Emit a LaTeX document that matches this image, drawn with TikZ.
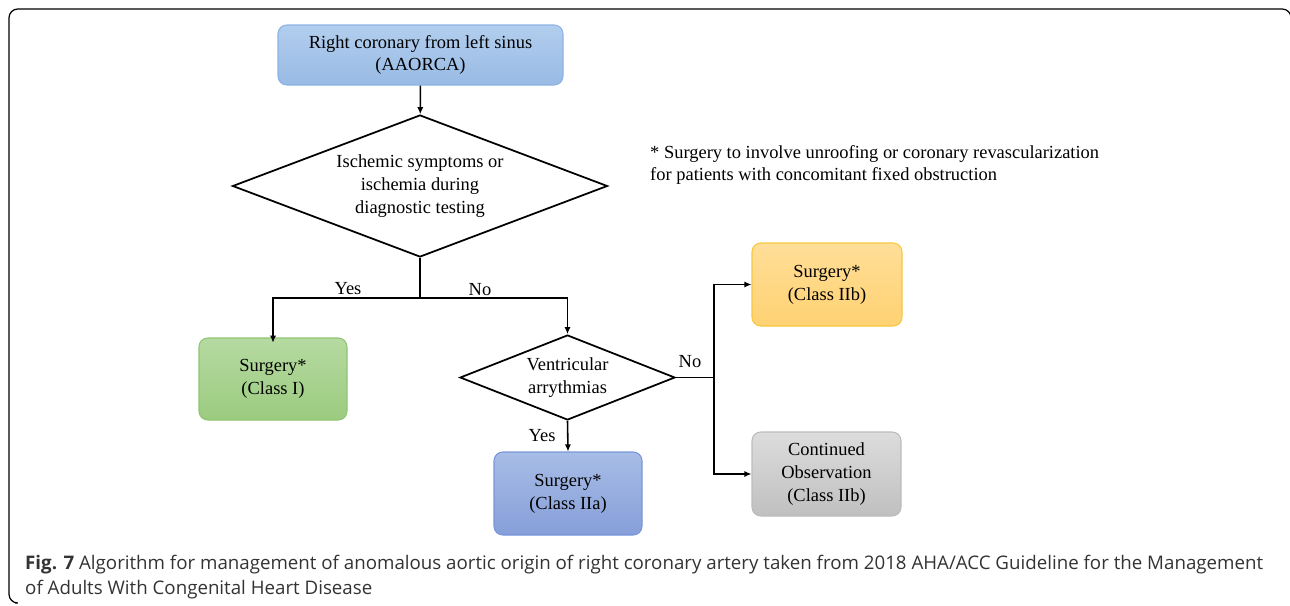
\documentclass[tikz,border=0pt]{standalone}
\usepackage{fontspec}
\setmainfont{Liberation Serif}
\newfontfamily\capfont{Open Sans}
\usetikzlibrary{shapes.geometric,arrows.meta}

\definecolor{topblue1}{HTML}{B2CEEE}
\definecolor{topblue2}{HTML}{98BAE4}
\definecolor{topblueline}{HTML}{8DB3E2}
\definecolor{green1}{HTML}{B6DAA2}
\definecolor{green2}{HTML}{9BCB7F}
\definecolor{greenline}{HTML}{8EC572}
\definecolor{blue1}{HTML}{A7BCE6}
\definecolor{blue2}{HTML}{879FD9}
\definecolor{blueline}{HTML}{7896DA}
\definecolor{orange1}{HTML}{FFDE98}
\definecolor{orange2}{HTML}{FFD272}
\definecolor{orangeline}{HTML}{F7C73F}
\definecolor{gray1}{HTML}{DCDCDC}
\definecolor{gray2}{HTML}{C0C0C0}
\definecolor{grayline}{HTML}{BCBCBC}
\definecolor{captext}{HTML}{333333}

\begin{document}
\begin{tikzpicture}[x=0.02cm, y=-0.02cm,
    every node/.style={font=\fontsize{10.5}{13}\selectfont, align=center},
    box/.style={rectangle, rounded corners=5pt, line width=0.6pt, inner sep=0pt},
    decision/.style={diamond, draw, line width=1pt, inner sep=0pt},
    link/.style={line width=0.9pt, -{Latex[length=4pt, width=3.5pt]}},
    plain/.style={line width=0.9pt}]
    \useasboundingbox (0,0) rectangle (1290,605);

    % frame
    \draw[line width=0.7pt, rounded corners=5pt] (15,603) -- (9,603) -- (9,9) -- (1291,9) -- (1291,40);

    % boxes
    \node[box, draw=topblueline, top color=topblue1, bottom color=topblue2,
          minimum width=285*0.02cm, minimum height=60*0.02cm] (start) at (420.5,55)
          {Right coronary from left sinus\\(AAORCA)};
    \node[decision, minimum width=375*0.02cm, minimum height=142*0.02cm, aspect=2.64] (ischemia) at (420,186)
          {Ischemic symptoms or\\ischemia during\\diagnostic testing};
    \node[box, draw=greenline, top color=green1, bottom color=green2,
          minimum width=148*0.02cm, minimum height=82*0.02cm] (classI) at (273,379)
          {Surgery*\\(Class I)};
    \node[decision, minimum width=215*0.02cm, minimum height=85*0.02cm, aspect=2.53] (arrhythmia) at (567.5,377.5)
          {Ventricular\\arrythmias};
    \node[box, draw=blueline, top color=blue1, bottom color=blue2,
          minimum width=148*0.02cm, minimum height=83*0.02cm] (classIIa) at (568,493.5)
          {Surgery*\\(Class IIa)};
    \node[box, draw=orangeline, top color=orange1, bottom color=orange2,
          minimum width=150*0.02cm, minimum height=83*0.02cm] (classIIb) at (827,284.5)
          {Surgery*\\(Class IIb)};
    \node[box, draw=grayline, top color=gray1, bottom color=gray2,
          minimum width=149*0.02cm, minimum height=84*0.02cm] (observe) at (826.5,474)
          {Continued\\Observation\\(Class IIb)};

    % connectors
    \coordinate (split1) at (420,298);
    \coordinate (split2) at (714,377.5);
    \draw[link] (start) -- (ischemia);
    \draw[plain] (ischemia.south) -- (split1);
    \draw[link] (split1) -| ([yshift=-3]classI.north);
    \draw[link] (split1) -| (arrhythmia.north);
    \draw[link] (arrhythmia.south) -- (classIIa.north);
    \draw[plain] (arrhythmia.east) -- (split2);
    \draw[link] (split2) |- (classIIb.west);
    \draw[link] (split2) |- (observe.west);

    % labels
    \node (yes1) at (348,289) {Yes};
    \node (no1) at (480,290) {No};
    \node (yes2) at (542,436) {Yes};
    \node (no2) at (690,362) {No};

    \node[anchor=west, align=left] (note) at (644,165)
          {* Surgery to involve unroofing or coronary revascularization\\for patients with concomitant fixed obstruction};

    % caption
    \node[anchor=north west, align=left, text=captext,
          font=\capfont\fontsize{10.65}{14.2}\selectfont] (caption) at (19,549)
          {\textbf{Fig. 7} Algorithm for management of anomalous aortic origin of right coronary artery taken from 2018 AHA/ACC Guideline for the Management\\of Adults With Congenital Heart Disease};
\end{tikzpicture}
\end{document}
